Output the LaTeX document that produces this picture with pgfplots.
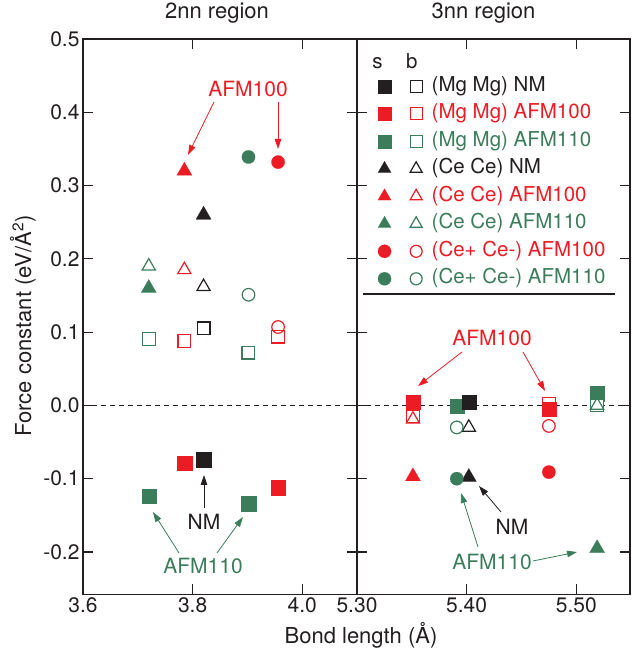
\documentclass[border=0pt]{standalone}
\usepackage{pgfplots}
\pgfplotsset{compat=1.18}
\usetikzlibrary{arrows.meta}
\usepackage{fontspec}
\setmainfont{TeX Gyre Heros}
\definecolor{cred}{HTML}{ED1C24}
\definecolor{cgreen}{HTML}{3B7D5B}
\definecolor{cblack}{HTML}{231F20}
\newcommand{\fs}[1]{\fontsize{#1}{#1}\selectfont}
\pgfplotsset{
  fsq/.style={only marks, mark=square*, mark size=7.2pt, mark options={draw=#1, fill=#1, line width=0.1pt}},
  osq/.style={only marks, mark=square, mark size=6.4pt, mark options={draw=#1, fill=none, line width=1.2pt}},
  osqw/.style={only marks, mark=square*, mark size=6.4pt, mark options={draw=#1, fill=white, line width=1.2pt}},
  ftr/.style={only marks, mark=triangle*, mark size=8.8pt, mark options={draw=#1, fill=#1, line width=0.1pt}},
  otr/.style={only marks, mark=triangle, mark size=7.6pt, mark options={draw=#1, fill=none, line width=1.2pt}},
  fci/.style={only marks, mark=*, mark size=6.7pt, mark options={draw=#1, fill=#1, line width=0.1pt}},
  oci/.style={only marks, mark=o, mark size=6.3pt, mark options={draw=#1, fill=none, line width=1.2pt}},
  base/.style={
    scale only axis, height=555.5pt, ymin=-0.258, ymax=0.5,
    axis line style={line width=1.3pt, cblack},
    every tick/.style={line width=1.1pt, cblack},
    major tick length=10pt, tick align=inside,
    ytick={-0.2,-0.1,0,0.1,0.2,0.3,0.4,0.5},
    clip=false,
    tick label style={font=\fs{21}, text=cblack},
    /pgf/number format/assume math mode=true,
    title style={font=\fs{22}, text=cblack, anchor=base, at={(0.5,1)}, yshift=14pt},
  }
}
\newcommand{\legimg}[5]{%
  \addlegendimage{legend image code/.code={
    \draw plot[only marks, mark=#1, mark size=#3, mark options={draw=#5, fill=#5, line width=0.1pt}] coordinates {(0pt,0pt)};
    \draw plot[only marks, mark=#2, mark size=#4, mark options={draw=#5, fill=none, line width=1.2pt}] coordinates {(31.6pt,0pt)};
  }}}
\begin{document}
\begin{tikzpicture}[x=1pt,y=1pt]
\useasboundingbox (0,0) rectangle (631,655);
% ---------------- left panel (2nn) ----------------
\begin{axis}[base, at={(83pt,60.5pt)}, anchor=south west, width=274pt,
  xmin=3.6, xmax=4.1, xtick={3.6,3.8,4.0},
  xticklabel style={/pgf/number format/.cd, fixed, fixed zerofill, precision=1},
  yticklabel style={/pgf/number format/.cd, fixed, fixed zerofill, precision=1},
  title={2nn region}, title style={xshift=-3pt}]
\draw[cblack, line width=1.1pt, dash pattern=on 5pt off 4pt] (axis cs:3.6,0) -- (axis cs:4.1,0);
% Mg Mg (squares)
\addplot[osq=cgreen, forget plot] coordinates {(3.72,0.091) (3.902,0.072)};
\addplot[osq=cred, forget plot] coordinates {(3.785,0.088) (3.956,0.094)};
\addplot[osq=cblack, forget plot] coordinates {(3.82,0.105)};
\addplot[fsq=cgreen, forget plot] coordinates {(3.72,-0.124) (3.902,-0.134)};
\addplot[fsq=cred, forget plot] coordinates {(3.785,-0.079) (3.956,-0.112)};
\addplot[fsq=cblack, forget plot] coordinates {(3.82,-0.074)};
% Ce Ce (triangles)
\addplot[ftr=cblack, forget plot] coordinates {(3.82,0.260)};
\addplot[otr=cblack, forget plot] coordinates {(3.82,0.162)};
\addplot[ftr=cred, forget plot] coordinates {(3.785,0.320)};
\addplot[otr=cred, forget plot] coordinates {(3.785,0.185)};
\addplot[ftr=cgreen, forget plot] coordinates {(3.72,0.160)};
\addplot[otr=cgreen, forget plot] coordinates {(3.72,0.190)};
% Ce+ Ce- (circles)
\addplot[fci=cred, forget plot] coordinates {(3.956,0.332)};
\addplot[oci=cred, forget plot] coordinates {(3.956,0.107)};
\addplot[fci=cgreen, forget plot] coordinates {(3.902,0.339)};
\addplot[oci=cgreen, forget plot] coordinates {(3.902,0.151)};
\draw[cblack, line width=2.6pt] (rel axis cs:1,0) -- (rel axis cs:1,1);
\end{axis}
% ---------------- right panel (3nn) ----------------
\begin{axis}[base, at={(357pt,60.5pt)}, anchor=south west, width=273pt,
  xmin=5.30, xmax=5.549, xtick={5.30,5.40,5.50}, yticklabels={},
  xticklabel style={/pgf/number format/.cd, fixed, fixed zerofill, precision=2},
  title={3nn region}, title style={xshift=-10pt},
  legend style={at={(axis description cs:0.065,0.935)}, anchor=north west, draw=none, fill=none,
    font=\fs{20.5}, nodes={inner sep=0pt, text height=14pt, text depth=4pt}, row sep=9.5pt,
    column sep=9.5pt},
  legend cell align=left]
\draw[cblack, line width=1.1pt, dash pattern=on 5pt off 4pt] (axis cs:5.30,0) -- (axis cs:5.549,0);
\addplot[osq=cred, forget plot] coordinates {(5.351,-0.015) (5.475,0.002)};
\addplot[otr=cred, forget plot] coordinates {(5.351,-0.019)};
\addplot[fsq=cred, forget plot] coordinates {(5.351,0.005) (5.475,-0.005)};
\addplot[fsq=cgreen, forget plot] coordinates {(5.3915,-0.001) (5.519,0.016)};
\addplot[osqw=cgreen, forget plot] coordinates {(5.519,0.000)};
\addplot[otr=cgreen, forget plot] coordinates {(5.519,0.000)};
\addplot[fsq=cblack, forget plot] coordinates {(5.402,0.005)};
\addplot[otr=cblack, forget plot] coordinates {(5.402,-0.030)};
\addplot[oci=cgreen, forget plot] coordinates {(5.391,-0.030)};
\addplot[oci=cred, forget plot] coordinates {(5.475,-0.028)};
\addplot[ftr=cred, forget plot] coordinates {(5.351,-0.097)};
\addplot[ftr=cblack, forget plot] coordinates {(5.402,-0.098)};
\addplot[fci=cgreen, forget plot] coordinates {(5.391,-0.100)};
\addplot[fci=cred, forget plot] coordinates {(5.475,-0.091)};
\addplot[ftr=cgreen, forget plot] coordinates {(5.519,-0.195)};
% legend
\legimg{square*}{square}{6.6pt}{6.0pt}{cblack}\addlegendentry[text=cblack]{(Mg Mg) NM}
\legimg{square*}{square}{6.6pt}{6.0pt}{cred}\addlegendentry[text=cred]{(Mg Mg) AFM100}
\legimg{square*}{square}{6.6pt}{6.0pt}{cgreen}\addlegendentry[text=cgreen]{(Mg Mg) AFM110}
\legimg{triangle*}{triangle}{7.6pt}{7.0pt}{cblack}\addlegendentry[text=cblack]{(Ce Ce) NM}
\legimg{triangle*}{triangle}{7.6pt}{7.0pt}{cred}\addlegendentry[text=cred]{(Ce Ce) AFM100}
\legimg{triangle*}{triangle}{7.6pt}{7.0pt}{cgreen}\addlegendentry[text=cgreen]{(Ce Ce) AFM110}
\legimg{*}{o}{6.6pt}{6.0pt}{cred}\addlegendentry[text=cred]{(Ce+ Ce-) AFM100}
\legimg{*}{o}{6.6pt}{6.0pt}{cgreen}\addlegendentry[text=cgreen]{(Ce+ Ce-) AFM110}
\end{axis}
% legend header and underline
\node[anchor=base, text=cblack, font=\fs{20.5}] at (377.5,586.7) {s};
\node[anchor=base, text=cblack, font=\fs{20.5}] at (411.7,586.7) {b};
\draw[cblack, line width=1.3pt] (363,361) -- (615,361);
% axis labels
\node[rotate=90, anchor=base, text=cblack, font=\fs{22}] at (31,329) {Force constant (eV/Å\textsuperscript{2})};
\node[anchor=base, text=cblack, font=\fs{22}] at (361,11) {Bond length (Å)};
% annotations
\begin{scope}[font=\fs{21}, line width=0.8pt, -{Triangle[length=10pt,width=6.5pt]}]
\node[text=cred] at (248,566) {AFM100};
\draw[cred] (214,553) -- (188,500);
\draw[cred] (278,553) -- (278,506);
\node[text=cblack] at (204,133) {NM};
\draw[cblack] (204,147) -- (204,180);
\node[text=cgreen] at (203,89) {AFM110};
\draw[cgreen] (179,102) -- (153,143);
\draw[cgreen] (217,102) -- (243,138);
\node[text=cred] at (492,317) {AFM100};
\draw[cred] (462,303) -- (418,269);
\draw[cred] (523,303) -- (545,264);
\node[text=cblack] at (512,128) {NM};
\draw[cblack] (501,143) -- (479,169);
\node[text=cgreen] at (492,93) {AFM110};
\draw[cgreen] (478,108) -- (461,162);
\draw[cgreen] (533,94) -- (577,103);
\end{scope}
\end{tikzpicture}
\end{document}
